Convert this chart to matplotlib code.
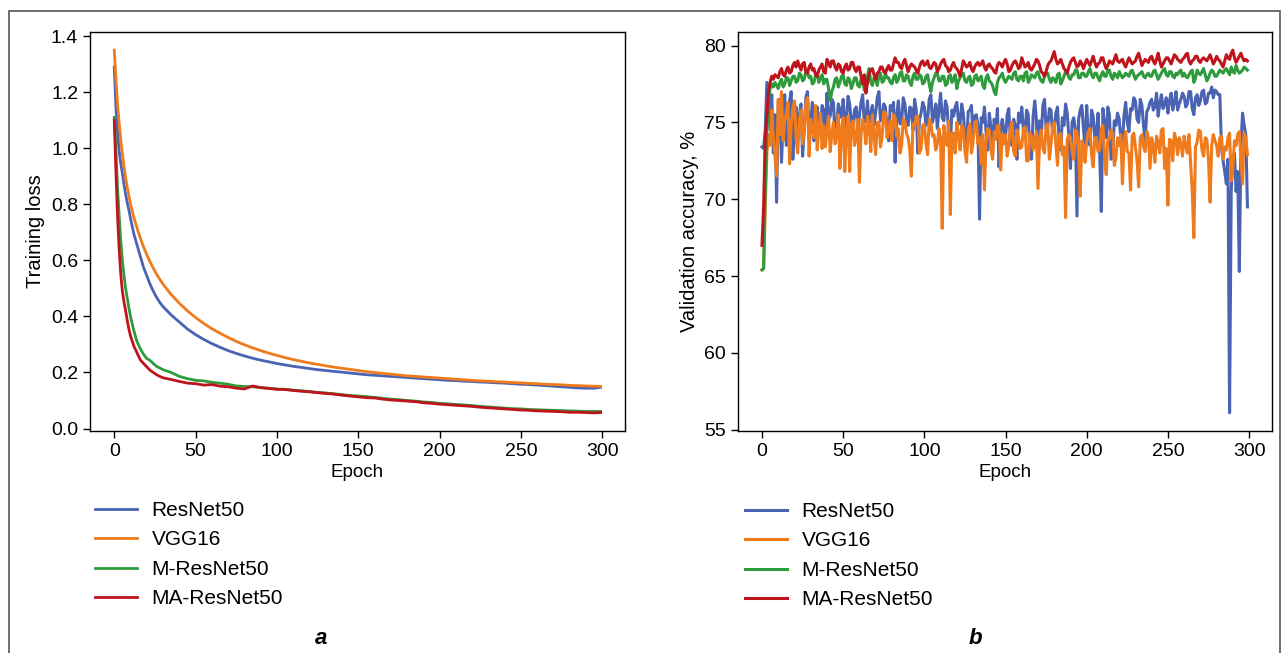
import matplotlib
matplotlib.use("Agg")
import matplotlib.pyplot as plt
from matplotlib.patches import Rectangle

plt.rcParams['font.family'] = ['Liberation Sans', 'DejaVu Sans']

# ===== DATA =====
model_names = ["ResNet50", "VGG16", "M-ResNet50", "MA-ResNet50"]
model_colors = ["#4a63b3", "#f07b1c", "#2e9b3c", "#c0141c"]

# --- (a) training loss ---
loss_epochs = list(range(0, 11)) + list(range(12, 31, 2)) + list(range(35, 300, 5)) + [299]

loss_resnet50 = [
    1.29, 1.15, 1.06, 0.99, 0.945, 0.91, 0.87, 0.835, 0.805, 0.78, 0.75,
    0.695, 0.655, 0.615, 0.575, 0.545, 0.515, 0.49, 0.468, 0.45, 0.435,
    0.405, 0.38, 0.355, 0.335, 0.318, 0.303, 0.29, 0.278, 0.268, 0.259,
    0.251, 0.244, 0.238, 0.232, 0.227, 0.222, 0.218, 0.214, 0.210, 0.207,
    0.204, 0.201, 0.198, 0.195, 0.192, 0.190, 0.188, 0.186, 0.184, 0.182,
    0.180, 0.178, 0.176, 0.174, 0.172, 0.171, 0.169, 0.168, 0.166, 0.165,
    0.163, 0.162, 0.160, 0.158, 0.157, 0.155, 0.153, 0.151, 0.149, 0.147,
    0.145, 0.144, 0.144, 0.147,
]
loss_vgg16 = [
    1.35, 1.25, 1.16, 1.09, 1.03, 0.98, 0.935, 0.895, 0.86, 0.83, 0.80,
    0.755, 0.715, 0.68, 0.648, 0.62, 0.595, 0.572, 0.551, 0.532, 0.515,
    0.478, 0.447, 0.42, 0.396, 0.375, 0.356, 0.34, 0.325, 0.311, 0.299,
    0.288, 0.278, 0.269, 0.261, 0.253, 0.246, 0.240, 0.234, 0.229, 0.224,
    0.219, 0.215, 0.211, 0.207, 0.203, 0.200, 0.197, 0.194, 0.191, 0.188,
    0.186, 0.184, 0.182, 0.180, 0.178, 0.176, 0.174, 0.172, 0.170, 0.169,
    0.167, 0.166, 0.164, 0.163, 0.161, 0.160, 0.158, 0.157, 0.156, 0.154,
    0.153, 0.152, 0.151, 0.150,
]
loss_m_resnet50 = [
    1.11, 1.00, 0.86, 0.76, 0.67, 0.60, 0.545, 0.50, 0.465, 0.43, 0.40,
    0.35, 0.31, 0.285, 0.265, 0.25, 0.243, 0.232, 0.222, 0.216, 0.21,
    0.200, 0.186, 0.178, 0.172, 0.170, 0.165, 0.162, 0.158, 0.152, 0.150,
    0.149, 0.146, 0.144, 0.141, 0.140, 0.137, 0.135, 0.132, 0.129, 0.127,
    0.124, 0.121, 0.118, 0.116, 0.114, 0.111, 0.108, 0.105, 0.103, 0.100,
    0.098, 0.095, 0.093, 0.090, 0.088, 0.086, 0.084, 0.082, 0.079, 0.077,
    0.075, 0.073, 0.071, 0.070, 0.068, 0.067, 0.066, 0.065, 0.064, 0.063,
    0.062, 0.061, 0.061, 0.061,
]
loss_ma_resnet50 = [
    1.10, 0.92, 0.76, 0.64, 0.55, 0.49, 0.45, 0.42, 0.385, 0.355, 0.33,
    0.295, 0.27, 0.245, 0.232, 0.22, 0.208, 0.20, 0.192, 0.186, 0.181,
    0.175, 0.168, 0.162, 0.160, 0.155, 0.157, 0.151, 0.149, 0.144, 0.141,
    0.152, 0.146, 0.143, 0.140, 0.139, 0.136, 0.133, 0.131, 0.128, 0.125,
    0.123, 0.119, 0.116, 0.113, 0.110, 0.109, 0.105, 0.102, 0.100, 0.098,
    0.096, 0.092, 0.090, 0.087, 0.085, 0.083, 0.081, 0.079, 0.076, 0.074,
    0.072, 0.070, 0.068, 0.066, 0.065, 0.063, 0.062, 0.061, 0.060, 0.058,
    0.058, 0.057, 0.056, 0.057,
]

# --- (b) validation accuracy, %, one value per epoch (0..299) ---
acc_epochs = list(range(0, 300))

acc_resnet50 = [
    73.4, 73.3, 74.5, 77.6, 76.0, 74.5, 76.8, 73.0, 75.5, 69.8,
    76.2, 76.5, 72.4, 75.0, 76.8, 73.5, 74.0, 76.4, 77.0, 72.6,
    75.2, 76.0, 73.8, 75.5, 76.2, 72.8, 74.5, 76.6, 77.0, 74.2,
    75.0, 76.3, 73.8, 75.2, 76.0, 74.9, 74.6, 76.1, 75.8, 73.5,
    76.9, 75.2, 75.4, 76.5, 76.3, 74.0, 74.8, 76.2, 75.8, 75.3,
    76.5, 74.6, 75.1, 76.7, 76.2, 75.0, 74.9, 75.8, 76.0, 74.4,
    75.5, 76.3, 76.8, 75.0, 75.2, 76.4, 74.2, 75.6, 76.1, 74.8,
    75.6, 76.6, 77.0, 75.1, 75.3, 76.2, 76.0, 74.7, 73.8, 76.1,
    75.8, 76.3, 72.4, 75.5, 76.4, 74.9, 75.0, 76.6, 76.2, 75.1,
    74.8, 76.0, 75.9, 74.5, 76.5, 75.8, 73.0, 75.2, 75.6, 76.3,
    76.0, 74.8, 75.2, 76.5, 76.8, 75.0, 75.5, 76.2, 74.6, 75.9,
    76.9, 75.3, 75.1, 76.4, 76.0, 74.2, 73.6, 75.8, 75.4, 76.0,
    76.3, 75.1, 74.9, 76.2, 75.6, 74.0, 73.3, 75.7, 75.8, 76.1,
    74.2, 75.4, 75.5, 74.8, 68.7, 75.3, 75.0, 76.0, 74.4, 73.2,
    75.6, 74.7, 72.9, 75.2, 74.5, 75.9, 72.1, 74.6, 75.2, 74.4,
    74.0, 75.5, 75.9, 73.8, 73.5, 75.2, 74.8, 72.6, 75.6, 75.0,
    76.0, 74.5, 74.3, 75.8, 75.5, 73.0, 72.6, 75.4, 76.4, 75.2,
    71.6, 75.1, 74.0, 76.1, 76.5, 74.6, 74.7, 75.9, 75.8, 74.3,
    74.5, 75.6, 76.0, 73.9, 73.2, 75.3, 74.8, 76.2, 75.6, 74.1,
    72.0, 75.0, 75.3, 74.6, 68.9, 75.2, 75.8, 76.1, 74.6, 73.4,
    76.1, 74.2, 73.5, 75.8, 75.4, 74.0, 74.2, 75.6, 73.0, 69.2,
    75.9, 74.8, 74.0, 76.0, 75.5, 72.6, 73.0, 75.1, 74.8, 75.6,
    75.2, 74.0, 73.6, 75.5, 76.3, 75.0, 74.4, 75.9, 75.8, 76.6,
    76.4, 75.2, 75.0, 76.5, 76.1, 74.8, 73.8, 75.7, 75.9, 76.3,
    76.5, 75.8, 76.0, 76.9, 75.4, 76.2, 76.8, 75.9, 76.2, 76.6,
    75.6, 76.4, 76.9, 75.8, 76.3, 77.0, 75.8, 76.2, 76.5, 76.9,
    76.7, 76.0, 76.2, 77.0, 77.0, 75.9, 75.5, 76.6, 76.8, 76.1,
    76.4, 77.0, 77.1, 76.2, 76.3, 76.9, 76.9, 77.3, 76.6, 77.1,
    77.0, 76.8, 76.8, 73.4, 72.5, 71.8, 71.0, 72.6, 56.1, 70.5,
    72.8, 73.0, 70.5, 71.8, 65.3, 73.5, 75.6, 74.8, 74.2, 69.5,
]
acc_vgg16 = [
    65.4, 65.5, 69.5, 73.0, 74.2, 73.5, 75.8, 74.0, 72.8, 71.5,
    76.5, 74.2, 77.0, 73.8, 75.1, 75.6, 76.3, 72.3, 74.8, 75.9,
    76.4, 74.0, 73.0, 75.2, 75.8, 73.6, 74.4, 76.2, 76.6, 72.8,
    75.2, 74.6, 74.0, 76.1, 73.2, 74.5, 75.6, 73.3, 74.8, 73.4,
    74.5, 75.4, 73.1, 74.2, 75.0, 73.6, 74.2, 75.5, 72.0, 74.6,
    75.3, 71.8, 74.6, 75.4, 71.8, 74.9, 75.1, 73.5, 74.0, 75.2,
    71.1, 74.3, 75.2, 74.6, 73.6, 75.4, 74.8, 73.1, 75.5, 74.2,
    72.9, 75.0, 75.0, 73.4, 74.1, 75.7, 75.6, 74.0, 74.4, 75.1,
    73.8, 75.5, 75.3, 74.1, 74.6, 73.0, 73.5, 75.2, 75.1, 74.3,
    74.0, 73.2, 71.5, 74.9, 74.8, 75.4, 75.4, 73.0, 73.3, 74.8,
    74.9, 73.6, 72.9, 75.2, 75.0, 74.1, 74.2, 73.2, 73.6, 74.6,
    74.0, 68.1, 74.8, 74.0, 73.5, 75.1, 69.0, 74.3, 74.3, 73.0,
    75.0, 74.2, 73.2, 74.8, 74.6, 73.1, 72.4, 74.5, 74.9, 73.0,
    73.7, 75.0, 75.1, 73.6, 74.0, 72.3, 74.2, 70.6, 73.8, 74.6,
    74.5, 73.2, 72.6, 74.4, 73.9, 74.8, 74.8, 71.9, 74.2, 73.6,
    74.2, 72.8, 73.5, 74.6, 75.0, 73.1, 72.8, 74.5, 74.0, 73.3,
    73.4, 74.6, 74.7, 72.5, 72.5, 74.3, 74.1, 73.2, 73.8, 74.4,
    70.7, 74.0, 74.5, 73.3, 73.0, 74.8, 74.9, 72.6, 73.6, 74.7,
    75.0, 73.6, 72.2, 74.1, 74.3, 72.9, 73.4, 68.8, 73.9, 74.2,
    74.0, 73.1, 72.6, 74.5, 74.4, 73.0, 70.2, 73.8, 73.5, 72.4,
    73.8, 74.4, 74.6, 72.9, 72.1, 74.0, 74.0, 73.1, 73.2, 74.6,
    74.8, 72.8, 71.6, 73.9, 73.9, 74.5, 74.3, 72.2, 72.7, 74.0,
    73.5, 74.2, 71.0, 73.7, 74.4, 73.1, 73.0, 70.6, 74.1, 74.3,
    73.4, 72.5, 70.8, 74.0, 74.2, 73.4, 73.1, 74.4, 74.0, 72.0,
    74.0, 73.5, 72.4, 74.1, 73.7, 73.0, 74.5, 74.6, 72.0, 73.3,
    69.6, 73.9, 73.8, 72.5, 74.3, 73.9, 72.9, 74.0, 73.6, 72.8,
    74.1, 73.5, 73.0, 74.2, 72.3, 70.5, 67.5, 73.4, 73.7, 74.5,
    74.4, 73.2, 72.8, 74.0, 73.9, 72.6, 69.8, 73.5, 74.2, 73.8,
    73.5, 72.8, 74.0, 74.1, 72.6, 73.4, 73.2, 74.0, 74.3, 71.2,
    72.0, 73.8, 73.5, 74.2, 74.4, 72.6, 71.0, 74.3, 74.0, 72.9,
]
acc_m_resnet50 = [
    65.4, 65.5, 70.5, 74.5, 76.5, 77.2, 77.5, 77.3, 77.6, 77.4,
    77.2, 77.6, 77.8, 77.3, 77.5, 77.9, 77.9, 77.4, 77.7, 78.0,
    78.0, 77.6, 77.7, 78.2, 78.1, 77.7, 77.8, 78.3, 78.3, 77.9,
    78.0, 77.5, 77.6, 78.1, 78.2, 77.6, 77.9, 78.1, 77.5, 77.8,
    77.8, 77.2, 76.4, 77.0, 77.3, 77.8, 77.9, 77.3, 77.6, 78.0,
    78.1, 77.5, 77.4, 77.9, 77.8, 77.2, 77.5, 77.9, 77.9, 77.4,
    77.3, 77.8, 77.7, 77.1, 77.0, 78.0, 78.5, 77.6, 77.4, 77.9,
    77.8, 77.4, 78.0, 78.2, 77.6, 77.7, 78.2, 77.9, 77.9, 77.6,
    77.5, 77.9, 78.1, 77.6, 77.8, 78.2, 78.3, 77.7, 77.7, 78.1,
    78.0, 77.6, 77.4, 78.0, 78.2, 77.8, 77.8, 78.1, 78.0, 77.5,
    77.6, 78.0, 78.1, 77.5, 77.0, 77.6, 77.9, 78.2, 78.2, 77.7,
    77.7, 78.0, 78.0, 77.4, 77.5, 78.0, 78.1, 77.6, 77.8, 78.1,
    77.2, 77.7, 77.9, 78.1, 78.2, 77.7, 77.6, 77.9, 78.0, 77.4,
    77.5, 78.0, 78.1, 77.7, 77.8, 78.0, 77.4, 77.2, 77.9, 78.1,
    77.7, 77.6, 77.4, 77.0, 76.8, 77.6, 77.9, 78.0, 78.2, 77.8,
    77.6, 77.8, 78.0, 77.9, 77.8, 78.2, 78.3, 77.8, 77.7, 78.0,
    78.0, 77.7, 78.2, 78.3, 77.6, 77.8, 78.1, 78.0, 77.9, 78.2,
    78.3, 77.9, 77.7, 77.6, 78.0, 78.2, 78.2, 77.8, 77.6, 77.9,
    77.8, 77.6, 78.1, 78.2, 77.5, 77.7, 78.0, 78.3, 78.3, 77.9,
    77.8, 78.1, 78.1, 78.4, 78.4, 77.9, 77.9, 78.2, 78.2, 78.0,
    78.0, 78.3, 78.5, 78.1, 77.9, 78.2, 78.2, 77.9, 77.7, 78.1,
    78.3, 78.0, 78.0, 78.4, 78.4, 78.0, 77.8, 78.2, 78.1, 77.9,
    78.3, 78.1, 77.9, 78.0, 78.2, 78.1, 78.0, 78.3, 78.4, 78.1,
    77.8, 78.0, 78.1, 78.2, 78.3, 78.0, 77.9, 78.1, 78.2, 78.0,
    78.0, 78.3, 78.4, 78.1, 77.8, 78.0, 78.2, 78.4, 78.5, 78.1,
    78.0, 78.3, 78.3, 78.0, 77.9, 78.2, 78.1, 78.3, 78.4, 78.0,
    78.2, 78.0, 77.9, 78.1, 78.3, 78.4, 77.6, 77.9, 78.4, 78.2,
    78.1, 78.3, 78.5, 78.1, 77.7, 77.9, 78.2, 78.4, 78.3, 78.0,
    78.0, 78.2, 78.4, 78.3, 78.2, 78.4, 78.5, 78.3, 78.1, 78.6,
    78.3, 78.2, 78.7, 78.4, 78.2, 78.3, 78.4, 78.6, 78.5, 78.4,
]
acc_ma_resnet50 = [
    67.0, 69.5, 74.0, 75.5, 77.0, 77.6, 78.0, 77.8, 78.1, 78.0,
    77.9, 78.3, 78.5, 78.1, 78.0, 78.4, 78.6, 78.2, 78.3, 78.7,
    78.9, 78.6, 79.0, 78.7, 78.4, 78.8, 78.9, 78.3, 78.2, 78.6,
    78.8, 78.4, 78.5, 78.1, 78.0, 78.4, 78.6, 78.8, 78.3, 78.2,
    79.1, 78.9, 78.6, 79.0, 79.0, 78.6, 78.4, 78.8, 78.7, 78.3,
    78.2, 78.6, 78.8, 78.4, 78.5, 78.9, 78.9, 78.5, 78.3, 78.6,
    78.6, 78.0, 77.5, 78.1, 76.9, 77.6, 78.2, 78.4, 78.5, 78.1,
    77.8, 78.2, 78.3, 78.6, 78.6, 78.3, 78.2, 78.5, 78.7, 78.4,
    78.4, 78.8, 79.2, 78.9, 78.9, 78.6, 78.5, 78.9, 79.1, 78.7,
    78.3, 78.6, 78.8, 78.7, 78.6, 78.4, 78.2, 78.6, 78.9, 79.0,
    78.7, 78.8, 79.0, 78.6, 78.5, 78.7, 78.9, 78.8, 78.3, 78.5,
    78.8, 79.0, 79.1, 78.7, 78.6, 78.3, 78.4, 78.7, 78.9, 78.6,
    78.5, 78.3, 78.0, 78.5, 79.0, 78.8, 78.6, 78.7, 78.9, 78.5,
    78.3, 78.6, 78.8, 78.9, 78.7, 78.8, 79.0, 78.6, 78.4, 78.7,
    78.8, 78.6, 78.5, 78.3, 78.2, 78.7, 78.9, 78.8, 78.6, 78.9,
    79.1, 78.8, 78.3, 78.4, 78.7, 78.9, 79.0, 78.8, 78.5, 78.6,
    79.2, 78.9, 78.6, 78.7, 78.9, 78.5, 78.4, 78.6, 78.8, 79.1,
    79.0, 78.7, 78.3, 78.2, 78.0, 78.3, 78.7, 78.9, 79.0, 79.3,
    79.6, 79.1, 78.8, 78.9, 79.1, 78.8, 78.5, 78.4, 78.2, 78.6,
    78.9, 79.1, 79.2, 78.9, 78.6, 78.7, 79.0, 78.8, 78.5, 78.8,
    79.1, 78.9, 78.7, 79.0, 79.3, 78.9, 78.6, 78.8, 78.9, 79.2,
    79.2, 78.8, 78.5, 78.7, 79.0, 78.9, 78.8, 79.1, 79.4, 79.0,
    78.9, 79.0, 79.1, 78.8, 78.6, 78.9, 79.2, 79.0, 78.8, 78.9,
    79.0, 79.3, 79.5, 79.1, 78.7, 78.9, 79.1, 79.0, 78.9, 79.2,
    79.3, 79.0, 78.8, 79.1, 79.5, 79.0, 78.6, 78.8, 79.0, 79.2,
    79.2, 79.0, 78.8, 79.1, 79.4, 79.3, 79.1, 79.0, 78.9, 79.1,
    79.2, 79.4, 79.5, 79.0, 78.8, 79.0, 79.1, 79.3, 79.3, 79.0,
    78.9, 79.1, 79.2, 79.1, 79.0, 79.2, 79.4, 79.1, 78.8, 79.0,
    79.3, 79.1, 79.0, 78.8, 78.6, 79.0, 79.4, 79.2, 79.1, 79.5,
    79.7, 79.2, 78.9, 79.1, 79.3, 79.5, 79.2, 79.0, 79.1, 79.0,
]

loss_series = [loss_resnet50, loss_vgg16, loss_m_resnet50, loss_ma_resnet50]
acc_series = [acc_resnet50, acc_vgg16, acc_m_resnet50, acc_ma_resnet50]

# ===== PLOT =====
fig = plt.figure(figsize=(12.83, 6.53), dpi=100)

# thin frame around the whole figure
fig.patches.append(Rectangle((9 / 1283, -0.05), 1271 / 1283, 1.05 - 11 / 653,
                             transform=fig.transFigure, fill=False,
                             edgecolor="#555555", linewidth=1.2))

ax_loss = fig.add_axes([0.0701, 0.340, 0.417, 0.611])
ax_acc = fig.add_axes([0.575, 0.340, 0.4162, 0.611])

for values, name, color in zip(loss_series, model_names, model_colors):
    ax_loss.plot(loss_epochs, values, color=color, linewidth=2.0, label=name)

for values, name, color in zip(acc_series, model_names, model_colors):
    ax_acc.plot(acc_epochs, values, color=color, linewidth=2.2, label=name)

ax_loss.set_ylabel("Training loss", fontsize=14.5)
ax_acc.set_ylabel("Validation accuracy, %", fontsize=14.5)

for ax in (ax_loss, ax_acc):
    ax.set_xlabel("Epoch", fontsize=13.5, labelpad=3)
    ax.set_xticks([0, 50, 100, 150, 200, 250, 300])
    ax.tick_params(labelsize=14, length=5, width=1)
    for spine in ax.spines.values():
        spine.set_linewidth(1.0)

ax_loss.set_yticks([0.0, 0.2, 0.4, 0.6, 0.8, 1.0, 1.2, 1.4])
ax_acc.set_yticks([55, 60, 65, 70, 75, 80])

# legends below each panel
legend_style = dict(loc="upper left", bbox_transform=fig.transFigure, frameon=False,
                    fontsize=15, handlelength=2.0, handletextpad=0.72,
                    borderpad=0, borderaxespad=0, labelspacing=0.5)
ax_loss.legend(bbox_to_anchor=(95 / 1283, 1 - 501 / 653), **legend_style)
ax_acc.legend(bbox_to_anchor=(745 / 1283, 1 - 502 / 653), **legend_style)

fig.text(321 / 1283, 1 - 639 / 653, "a", fontsize=16, fontweight="bold",
         fontstyle="italic", ha="center", va="center")
fig.text(975 / 1283, 1 - 639 / 653, "b", fontsize=16, fontweight="bold",
         fontstyle="italic", ha="center", va="center")

fig.savefig("out.png", dpi=100)
